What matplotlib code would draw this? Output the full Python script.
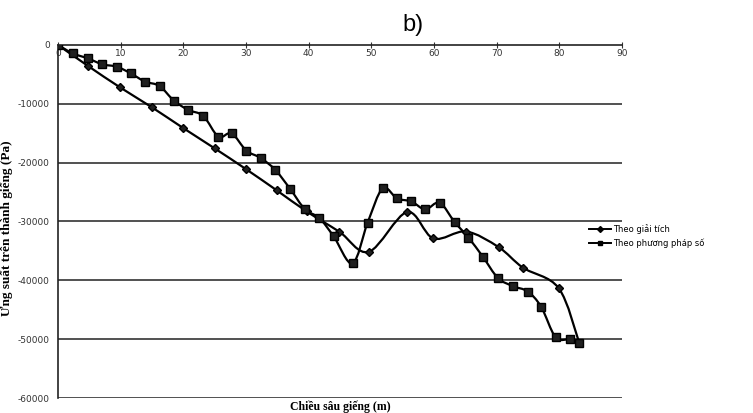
import numpy as np
import matplotlib
matplotlib.use("Agg")
import matplotlib.pyplot as plt
from matplotlib.path import Path
from matplotlib.patches import PathPatch
from matplotlib.lines import Line2D

# ---- data ----
x_giai_tich = [0, 4.8, 9.9, 15.0, 19.9, 25.0, 30.0, 34.9, 39.7, 44.9, 49.6, 55.7, 59.9, 65.1, 70.3, 74.2, 79.9, 83.2]
y_giai_tich = [0, -3570, -7200, -10600, -14060, -17570, -21100, -24700, -28300, -31750, -35150, -28400, -32880, -31700, -34350, -37850, -41330, -50700]

x_pp_so = [0, 2.35, 4.74, 7.1, 9.4, 11.6, 13.9, 16.2, 18.5, 20.8, 23.2, 25.6, 27.7, 30.05, 32.35, 34.7, 37.1,
           39.4, 41.7, 44.0, 47.0, 49.4, 51.8, 54.1, 56.4, 58.6, 60.9, 63.3, 65.5, 67.8, 70.2, 72.6, 74.95,
           77.1, 79.4, 81.7, 83.2]
y_pp_so = [0, -1420, -2270, -3290, -3690, -4820, -6230, -6970, -9470, -11050, -12070, -15590, -15020, -17950,
           -19200, -21260, -24540, -27920, -29420, -32540, -37130, -30220, -24380, -26080, -26600, -27940,
           -26820, -30100, -32740, -36000, -39600, -40990, -41900, -44500, -49660, -50050, -50730]

series_labels = ["Theo giải tích", "Theo phương pháp số"]
x_ticks = [0, 10, 20, 30, 40, 50, 60, 70, 80, 90]
y_ticks = [0, -10000, -20000, -30000, -40000, -50000, -60000]
title_text = "b)"
x_label = "Chiều sâu giếng (m)"
y_label = "Ứng suất trên thành giếng (Pa)"


def smooth_path(xs, ys, t=1.0 / 6.0):
    """Excel-like smoothed line: cubic Bezier through data points."""
    pts = np.column_stack([xs, ys]).astype(float)
    n = len(pts)
    verts = [pts[0]]
    codes = [Path.MOVETO]
    for i in range(n - 1):
        p0 = pts[i - 1] if i > 0 else pts[i]
        p1 = pts[i]
        p2 = pts[i + 1]
        p3 = pts[i + 2] if i + 2 < n else pts[i + 1]
        c1 = p1 + (p2 - p0) * t
        c2 = p2 - (p3 - p1) * t
        verts += [c1, c2, p2]
        codes += [Path.CURVE4] * 3
    return Path(verts, codes)


fig = plt.figure(figsize=(7.53, 4.13), dpi=100)
ax = fig.add_axes([58 / 753, 1 - 398 / 413, (622 - 58) / 753, (398 - 45) / 413])

for s, (xs, ys, mk, ms) in enumerate([(x_giai_tich, y_giai_tich, "D", 4.5),
                                       (x_pp_so, y_pp_so, "s", 6)]):
    patch = PathPatch(smooth_path(xs, ys), facecolor="none", edgecolor="black", lw=1.6, zorder=3)
    ax.add_patch(patch)
    ax.plot(xs, ys, linestyle="none", marker=mk, ms=ms, color="black",
            markeredgecolor="black", markerfacecolor="#202020", zorder=4)

ax.set_xlim(0, 90)
ax.set_ylim(-60000, 0)
ax.set_xticks(x_ticks)
ax.set_yticks(y_ticks)
ax.set_yticklabels([str(v) for v in y_ticks])
ax.set_xticklabels([str(v) for v in x_ticks])

for yv in y_ticks[1:]:
    ax.axhline(yv, color="#333333", lw=1.2, zorder=1)

for side in ["right", "bottom"]:
    ax.spines[side].set_visible(False)
ax.spines["top"].set_linewidth(1.2)
ax.spines["left"].set_linewidth(1.2)
ax.spines["top"].set_color("#222222")
ax.spines["left"].set_color("#222222")

ax.tick_params(axis="x", top=True, labeltop=True, bottom=False, labelbottom=False,
               direction="inout", length=5, width=0.8, pad=-12, labelsize=6.5, colors="#333333")
ax.tick_params(axis="y", direction="out", length=0, pad=6, labelsize=6.5, colors="#333333")

serif = ["Liberation Serif", "DejaVu Serif"]
ax.set_xlabel(x_label, fontfamily=serif, fontweight="bold", fontsize=8.5, labelpad=2)
ax.set_ylabel(y_label, fontfamily=serif, fontweight="bold", fontsize=9.5)
ax.yaxis.set_label_coords((13 - 58) / 564, (398 - 228) / 353)

fig.text(413 / 753, 1 - 25 / 413, title_text, fontsize=17, ha="center", va="center",
         fontfamily=["Liberation Sans", "DejaVu Sans"])

handles = [Line2D([0], [0], color="black", lw=1.4, marker="D", ms=3),
           Line2D([0], [0], color="black", lw=1.4, marker="s", ms=3.5)]
fig.legend(handles, series_labels, loc="center left", bbox_to_anchor=(585 / 753, 1 - 236 / 413),
           frameon=False, fontsize=6, handlelength=2.6, handletextpad=0.3, labelspacing=0.6,
           borderpad=0)

fig.savefig("out.png", dpi=100, facecolor="white")
